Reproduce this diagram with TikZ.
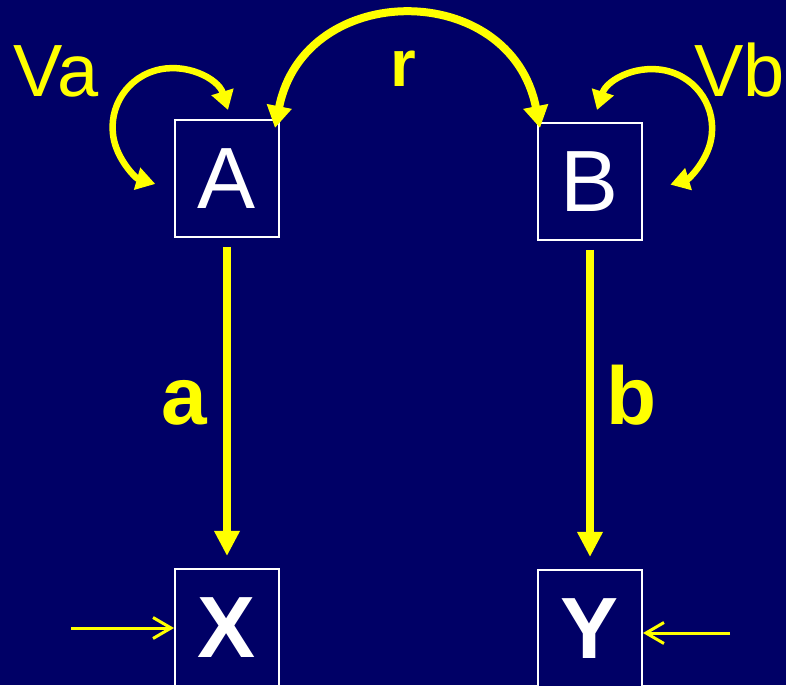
\documentclass[tikz,border=0pt]{standalone}
\usepackage{fontspec}
\setmainfont{Liberation Sans}
\usetikzlibrary{arrows.meta}
\definecolor{navy}{HTML}{000066}
\definecolor{yel}{HTML}{FFFF00}
\begin{document}
\begin{tikzpicture}[x=1pt,y=1pt,
  varbox/.style={draw=white, line width=2pt, fill=navy, minimum width=104pt,
    minimum height=117pt, inner sep=0pt, text=white},
  regvar/.style={varbox, font=\fontsize{87}{87}\selectfont},
  boldvar/.style={varbox, font=\fontsize{87}{87}\selectfont\bfseries},
  causal/.style={draw=yel, line width=8pt, -{Triangle[width=24pt,length=25pt]}},
  corr/.style={draw=yel, line width=8pt,
    {Triangle[width=24pt,length=22pt]}-{Triangle[width=24pt,length=22pt]}},
  loopvar/.style={draw=yel, line width=6.5pt,
    {Triangle[width=22pt,length=19pt]}-{Triangle[width=22pt,length=19pt]}},
  resid/.style={draw=yel, line width=3pt, -{Straight Barb[width=21pt,length=18pt]}},
  lbl/.style={text=yel, inner sep=0pt, anchor=base},
  biglbl/.style={lbl, font=\fontsize{74}{74}\selectfont, anchor=base west},
  pathlbl/.style={lbl, font=\fontsize{82}{82}\selectfont\bfseries}
]
% background and page frame
\fill[navy] (0,0) rectangle (786,685);
\useasboundingbox (0,0) rectangle (786,685);

% latent and observed variables
\node[regvar]  (A) at (227,506.5) {A};
\node[regvar]  (B) at (590,503.5) {B};
\node[boldvar] (X) at (227,57.5)  {X};
\node[boldvar] (Y) at (590,56.5)  {Y};

% paths from latent to observed
\draw[causal, shorten <=9pt, shorten >=12pt] (A.south) -- (X.north);
\draw[causal, shorten <=9pt, shorten >=12pt] (B.south) -- (Y.north);
\node[pathlbl] (la) at (184,260) {a};
\node[pathlbl] (lb) at (631.5,260) {b};

% correlation between A and B
\coordinate (rA) at (275,557);
\coordinate (rB) at (540,557);
\draw[corr] (rA) .. controls +(29.4,149) and +(-29.4,149) .. (rB);
\node[pathlbl, font=\fontsize{66}{66}\selectfont\bfseries] (lr) at (403.5,598) {r};

% variances of A and B
\coordinate (vaS) at (228,575);
\draw[loopvar] (vaS) arc[start angle=17, end angle=254, radius=59];
\coordinate (vbS) at (597,575);
\draw[loopvar] (vbS) arc[start angle=162, end angle=-73, radius=59];
\node[biglbl] (lva) at (13,588) {Va};
\node[biglbl] (lvb) at (694,588) {Vb};

% residual inputs to X and Y
\coordinate (inX) at (71,57);
\coordinate (inY) at (730,52);
\draw[resid] (inX) -- (inX -| X.west);
\draw[resid] (inY) -- (inY -| Y.east);
\end{tikzpicture}
\end{document}
